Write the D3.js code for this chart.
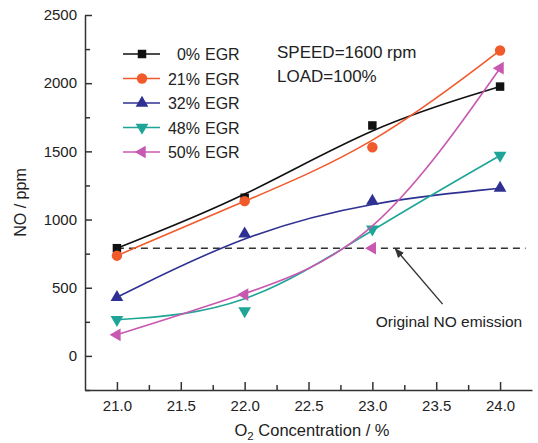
<!DOCTYPE html>
<html>
<head>
<meta charset="utf-8">
<script src="https://cdn.jsdelivr.net/npm/d3@7"></script>
<style>
  body { margin: 0; background: #fff; }
  text { font-family: "Liberation Sans", Arial, sans-serif; fill: #222; }
</style>
</head>
<body>
<div id="chart"></div>
<script>
const o2 = [21, 22, 23, 24];
const egr0 = [790, 1160, 1690, 1975];
const egr21 = [735, 1135, 1530, 2240];
const egr32 = [430, 895, 1135, 1230];
const egr48 = [265, 330, 930, 1470];
const egr50 = [155, 450, 790, 2110];
const originalNO = 790;

const xTicks = [21.0, 21.5, 22.0, 22.5, 23.0, 23.5, 24.0];
const yTicks = [0, 500, 1000, 1500, 2000, 2500];

const series = [
  { pct: '0%', values: egr0, color: '#111111', shape: 'square' },
  { pct: '21%', values: egr21, color: '#f15a2b', shape: 'circle' },
  { pct: '32%', values: egr32, color: '#2e3192', shape: 'up' },
  { pct: '48%', values: egr48, color: '#1fa597', shape: 'down' },
  { pct: '50%', values: egr50, color: '#c858b0', shape: 'left' }
];

const width = 538, height = 443;
const margin = { top: 15, right: 6, bottom: 53, left: 85 };

const svg = d3.select('#chart')
  .append('svg')
  .attr('width', width)
  .attr('height', height);

const x = d3.scaleLinear().domain([20.75, 24.25]).range([margin.left, width - margin.right]);
const y = d3.scaleLinear().domain([-250, 2500]).range([height - margin.bottom, margin.top]);

// minor ticks
svg.append('g')
  .attr('transform', `translate(0,${y(-250)})`)
  .call(d3.axisBottom(x).tickValues(d3.range(21.25, 24.25, 0.5)).tickSize(-5).tickFormat(''))
  .call(g => g.select('.domain').remove());
svg.append('g')
  .attr('transform', `translate(${x(20.75)},0)`)
  .call(d3.axisLeft(y).tickValues(d3.range(-250, 2500, 500)).tickSize(-5).tickFormat(''))
  .call(g => g.select('.domain').remove());

svg.append('g')
  .attr('transform', `translate(0,${y(-250)})`)
  .call(d3.axisBottom(x).tickValues(xTicks).tickSize(-8).tickSizeOuter(0).tickPadding(10).tickFormat(d3.format('.1f')));
svg.append('g')
  .attr('transform', `translate(${x(20.75)},0)`)
  .call(d3.axisLeft(y).tickValues(yTicks).tickSize(-7).tickSizeOuter(0).tickPadding(8).tickFormat(d3.format('d')));

svg.selectAll('.tick line, .domain').attr('stroke', '#333').attr('stroke-width', 1.5);
svg.selectAll('.tick text').attr('font-size', 15).attr('fill', '#222')
  .attr('font-family', '"Liberation Sans", Arial, sans-serif');

// axis titles
svg.append('text')
  .attr('transform', `translate(26,${(y(2500) + y(-250)) / 2}) rotate(-90)`)
  .attr('text-anchor', 'middle')
  .attr('font-size', 16)
  .text('NO / ppm');

const xl = svg.append('text')
  .attr('x', 312)
  .attr('y', 436)
  .attr('text-anchor', 'middle')
  .attr('font-size', 16.5);
xl.append('tspan').text('O');
xl.append('tspan').attr('font-size', 11.5).attr('dy', 4).text('2');
xl.append('tspan').attr('dy', -4).text(' Concentration / %');

// original NO line
svg.append('line')
  .attr('x1', x(21)).attr('x2', x(24.2))
  .attr('y1', y(originalNO)).attr('y2', y(originalNO))
  .attr('stroke', '#333').attr('stroke-width', 1.5)
  .attr('stroke-dasharray', '7,5');

svg.append('defs').append('marker')
  .attr('id', 'arrow')
  .attr('viewBox', '0 0 10 10')
  .attr('refX', 9).attr('refY', 5)
  .attr('markerWidth', 7).attr('markerHeight', 7)
  .attr('orient', 'auto')
  .append('path').attr('d', 'M0,1L10,5L0,9Z').attr('fill', '#333');

svg.append('line')
  .attr('x1', x(23.55)).attr('y1', y(380))
  .attr('x2', x(23.18)).attr('y2', y(785))
  .attr('stroke', '#333').attr('stroke-width', 1.4)
  .attr('marker-end', 'url(#arrow)');

svg.append('text')
  .attr('x', x(23.6)).attr('y', y(215))
  .attr('text-anchor', 'middle')
  .attr('font-size', 15.5)
  .text('Original NO emission');

svg.append('text').attr('x', 277).attr('y', 58).attr('font-size', 17).text('SPEED=1600 rpm');
svg.append('text').attr('x', 277).attr('y', 82).attr('font-size', 17).text('LOAD=100%');

// symbols
const symbolFor = (shape) => {
  if (shape === 'square') return { d: d3.symbol(d3.symbolSquare, 72)(), rot: 0 };
  if (shape === 'circle') return { d: d3.symbol(d3.symbolCircle, 85)(), rot: 0 };
  const d = d3.symbol(d3.symbolTriangle, 70)();
  return { d, rot: shape === 'up' ? 0 : shape === 'down' ? 180 : -90 };
};

const line = d3.line()
  .x((d, i) => x(o2[i]))
  .y(d => y(d))
  .curve(d3.curveBasis);

series.forEach(s => {
  svg.append('path')
    .attr('d', line(s.values))
    .attr('fill', 'none')
    .attr('stroke', s.color)
    .attr('stroke-width', 1.6);
  const sym = symbolFor(s.shape);
  svg.selectAll(null)
    .data(s.values)
    .enter()
    .append('path')
    .attr('d', sym.d)
    .attr('transform', (d, i) => `translate(${x(o2[i])},${y(d)}) rotate(${sym.rot})`)
    .attr('fill', s.color);
});

// legend
const legend = svg.append('g').attr('transform', 'translate(123,54)');
series.forEach((s, i) => {
  const g = legend.append('g').attr('transform', `translate(0,${i * 24.5})`);
  g.append('line').attr('x1', 0).attr('x2', 37).attr('stroke', s.color).attr('stroke-width', 1.6);
  const sym = symbolFor(s.shape);
  g.append('path').attr('d', sym.d).attr('transform', `translate(19,0) rotate(${sym.rot})`).attr('fill', s.color);
  g.append('text').attr('x', 77).attr('y', 6).attr('text-anchor', 'end').attr('font-size', 16).text(s.pct);
  g.append('text').attr('x', 82).attr('y', 6).attr('font-size', 16).text('EGR');
});
</script>
</body>
</html>
